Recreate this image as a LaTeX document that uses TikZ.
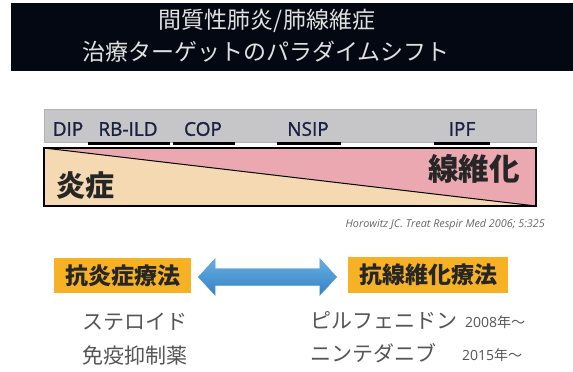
\documentclass[tikz,border=0pt]{standalone}
\usepackage{fontspec}
\setmainfont{Open Sans}
\newfontfamily\jp{Noto Sans CJK JP}
\newfontfamily\lblfont[FakeBold=1.2]{Open Sans}
\usetikzlibrary{calc}
\definecolor{titlebg}{HTML}{030812}
\definecolor{barg}{HTML}{C6C5C7}
\definecolor{navy}{HTML}{1A2040}
\definecolor{tan}{HTML}{F4D9B2}
\definecolor{pinkf}{HTML}{EBA8B0}
\definecolor{orangeb}{HTML}{F6B125}
\definecolor{greyt}{HTML}{555555}
\definecolor{blueL}{HTML}{66AEE2}
\definecolor{blueD}{HTML}{3682C4}
\tikzset{
  lbl/.style={text=navy, font=\lblfont\fontsize{19}{20}\selectfont, inner sep=0pt},
  uline/.style={line width=2.2pt, black},
  therapy/.style={fill=orangeb, text=black!85, font=\jp\bfseries\fontsize{23}{26}\selectfont, inner sep=0pt},
  drug/.style={text=greyt, font=\jp\fontsize{21}{24}\selectfont, inner sep=0pt, anchor=west},
  year/.style={text=greyt, font=\fontsize{14}{16}\selectfont, inner sep=0pt, anchor=west},
}
\begin{document}
\begin{tikzpicture}[x=1pt,y=-1pt]
\useasboundingbox (0,0) rectangle (573,372);
% title
\fill[titlebg] (11,3) rectangle (573,71);
\node[text=white!88!black, font=\jp\fontsize{23}{26}\selectfont, inner sep=0pt] (t1) at (267,21) {間質性肺炎/肺線維症};
\node[text=white!88!black, font=\jp\fontsize{23}{26}\selectfont, inner sep=0pt] (t2) at (266,52) {治療ターゲットのパラダイムシフト};
% gray bar
\draw[fill=barg, draw=black!30, line width=0.6pt] (44,109) rectangle (536,142);
\node[lbl] (dip) at (68,129) {DIP};
\node[lbl] (rb) at (128,129) {RB-ILD};
\node[lbl] (cop) at (203,129) {COP};
\node[lbl] (nsip) at (308,129) {NSIP};
\node[lbl] (ipf) at (462,129) {IPF};
\draw[uline] (88,143.5) -- (170,143.5);
\draw[uline] (173,143.5) -- (235,143.5);
\draw[uline] (277,143.5) -- (341,143.5);
\draw[uline] (434,143.5) -- (490,143.5);
% triangle box
\fill[tan] (44,148) rectangle (536,206);
\fill[pinkf] (44,148) -- (536,148) -- (536,206) -- cycle;
\draw[line width=1pt] (44,148) -- (536,206);
\draw[line width=1.3pt] (44,148) rectangle (536,206);
\node[text=black!85, font=\jp\bfseries\fontsize{29}{32}\selectfont, inner sep=0pt] (en) at (85,186) {炎症};
\node[text=black!85, font=\jp\bfseries\fontsize{30.5}{32}\selectfont, inner sep=0pt] (sen) at (474,169) {線維化};
\node[text=black!60, font=\itshape\fontsize{10.8}{12}\selectfont, inner sep=0pt, anchor=east] (cite) at (545,225) {Horowitz JC. Treat Respir Med 2006; 5:325};
% therapy boxes
\node[therapy, minimum width=137pt, minimum height=35pt] (L) at (122.5,275.5) {抗炎症療法};
\node[therapy, minimum width=160pt, minimum height=36pt] (R) at (428,275) {抗線維化療法};
% double arrow
\coordinate (a1) at ($(L.east)+(7,1.5)$);
\coordinate (a2) at ($(R.west)+(-11,2)$);
\shade[top color=blueL, bottom color=blueD, draw=blueD!80, line width=0.3pt]
  (a1) -- ($(a1)+(17,-18.5)$) -- ($(a1)+(17,-8.5)$) -- ($(a2)+(-17,-8.5)$) -- ($(a2)+(-17,-18.5)$)
  -- (a2) -- ($(a2)+(-17,18.5)$) -- ($(a2)+(-17,8.5)$) -- ($(a1)+(17,8.5)$) -- ($(a1)+(17,18.5)$) -- cycle;
% drugs
\node[drug] (d1) at (82,322) {ステロイド};
\node[drug] (d2) at (82,355) {免疫抑制薬};
\node[drug] (d3) at (310,320) {ピルフェニドン};
\node[drug] (d4) at (310,353) {ニンテダニブ};
\node[year] (y1) at (465,322) {2008\jp 年～};
\node[year] (y2) at (462,355) {2015\jp 年～};
\end{tikzpicture}
\end{document}
